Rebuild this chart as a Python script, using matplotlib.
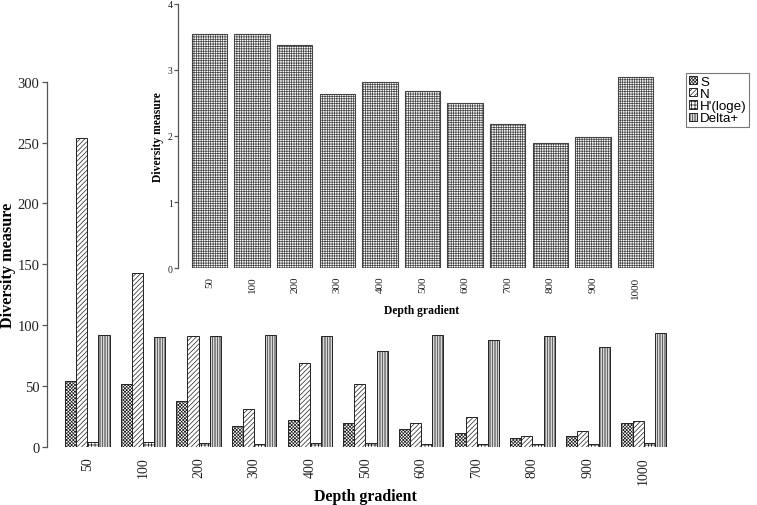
import numpy as np
import matplotlib
matplotlib.use("Agg")
from matplotlib import pyplot as plt

depths = ['50', '100', '200', '300', '400', '500', '600', '700', '800', '900', '1000']
S = [54, 51.5, 37.5, 17, 22, 19.5, 14.5, 11.5, 7.4, 8.5, 19.7]
N = [254, 143, 91.2, 31, 68.5, 51.2, 19.7, 24.4, 9, 12.6, 21.3]
H = [3.54, 3.535, 3.38, 2.63, 2.81, 2.68, 2.50, 2.18, 1.89, 1.98, 2.885]
D = [91.8, 90.4, 91, 91.8, 91.2, 78.4, 91.5, 87.4, 90.7, 82.2, 93.7]
series_names = ["S", "N", "H'(loge)", "Delta+"]

W, H_PX = 757, 506
plt.rcParams['hatch.linewidth'] = 0.5
plt.rcParams['font.family'] = ['Liberation Serif', 'DejaVu Serif']

def px_box(l, t, r, b):
    return [l / W, 1 - b / H_PX, (r - l) / W, (b - t) / H_PX]

def style_axis(ax, ticklen, pad, size):
    for s in ['top', 'right', 'bottom']:
        ax.spines[s].set_visible(False)
    ax.spines['left'].set_color('#555555')
    ax.spines['left'].set_linewidth(0.9)
    ax.tick_params(axis='y', length=ticklen, width=0.9, color='#555555', pad=pad,
                   labelsize=size, labelcolor='#222222')
    ax.patch.set_alpha(0)

fig = plt.figure(figsize=(W / 100, H_PX / 100), dpi=100)

# main chart
ax = fig.add_axes(px_box(47, 82.7, 680, 447.7))
x0 = 1 + 5 * np.arange(len(depths))
hatches = ['xxxxxxxxxx', '///////', '+++++', '||||||||||']
for j, (vals, hat) in enumerate(zip([S, N, H, D], hatches)):
    ax.bar(x0 + j, vals, width=1, align='edge', facecolor='white',
           edgecolor='#222222', linewidth=0.7, hatch=hat, label=series_names[j])
ax.set_xlim(-0.617, 56.26)
ax.set_ylim(0, 300)
ax.set_yticks([0, 50, 100, 150, 200, 250, 300])
ax.set_xticks(x0 + 2)
ax.set_xticklabels(depths, rotation=90, fontsize=10, color='#222222')
ax.tick_params(axis='x', length=0, pad=6.7)
style_axis(ax, 3.6, 1.8, 10.5)

fig.text(8 / W, 1 - 265 / H_PX, 'Diversity measure', rotation=90, ha='center',
         va='center', fontsize=11.7, fontweight='bold')
fig.text(365.5 / W, 1 - 496.7 / H_PX, 'Depth gradient', ha='center', va='center',
         fontsize=11.4, fontweight='bold')

# inset with H'(loge)
ins = fig.add_axes(px_box(178.3, 4.7, 665, 269.3))
xi = 0.2 + 1.2 * np.arange(len(depths))
ins.bar(xi, H, width=1, align='edge', facecolor='white', edgecolor='#444444',
        linewidth=0.8, hatch='+++++++')
ins.set_xlim(-0.177, 13.53)
ins.set_ylim(0, 4)
ins.set_yticks([0, 1, 2, 3, 4])
ins.set_xticks(xi + 0.5)
ins.set_xticklabels(depths, rotation=90, fontsize=8, color='#222222')
ins.tick_params(axis='x', length=0, pad=5.3)
style_axis(ins, 2.9, 1.2, 7)

fig.text(158.3 / W, 1 - 137 / H_PX, 'Diversity measure', rotation=90, ha='center',
         va='center', fontsize=8.4, fontweight='bold')
fig.text(422 / W, 1 - 310.7 / H_PX, 'Depth gradient', ha='center', va='center',
         fontsize=8.4, fontweight='bold')

handles, labels = ax.get_legend_handles_labels()
leg = fig.legend(handles, labels, loc='upper left', bbox_to_anchor=(686 / W, 1 - 74 / H_PX),
                 borderaxespad=0, borderpad=0.2, labelspacing=0.02, handlelength=0.6,
                 handleheight=0.6, handletextpad=0.25, fancybox=False,
                 prop={'family': 'Liberation Sans', 'size': 9.6})
leg.get_frame().set_edgecolor('#555555')
leg.get_frame().set_linewidth(0.8)

fig.savefig('out.png', dpi=100)
